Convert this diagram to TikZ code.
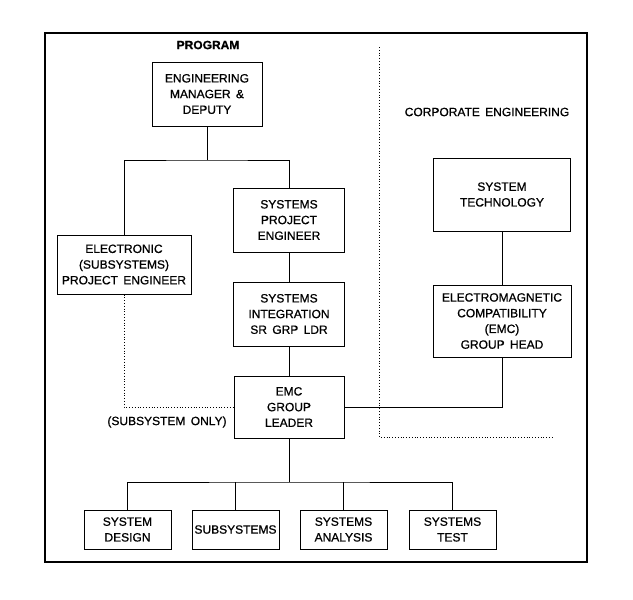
\documentclass[tikz,border=0pt]{standalone}
\usepackage{fontspec}
\setmainfont[WordSpace=1.6,FakeBold=0.8]{Liberation Sans}

\begin{document}
\begin{tikzpicture}[x=1pt,y=-1pt,
 box/.style={draw,line width=1pt,align=center,inner sep=0pt,
  font=\fontsize{12}{15.7}\selectfont},
 headtext/.style={font=\fontsize{12}{15.7}\selectfont},
 wire/.style={line width=1pt},
 dots/.style={dotted,line width=0.8pt}]
 \useasboundingbox (0,0) rectangle (633,600);
 \draw[line width=2pt] (45,33) rectangle (587,562);
 \node[headtext,font=\fontsize{12}{15.7}\selectfont\bfseries] (program) at (208,45) {PROGRAM};
 \node[headtext] (corp) at (487,112) {CORPORATE ENGINEERING};
 \node[headtext] (subonly) at (167,422) {(SUBSYSTEM ONLY)};
 % program side
 \node[box,minimum width=110,minimum height=64] (mgr) at (207,94) {ENGINEERING\\MANAGER \&\\DEPUTY};
 \node[box,minimum width=111,minimum height=64] (spe) at (289,220) {SYSTEMS\\PROJECT\\ENGINEER};
 \node[box,minimum width=134,minimum height=59] (elec) at (124,264.5) {ELECTRONIC\\(SUBSYSTEMS)\\PROJECT ENGINEER};
 \node[box,minimum width=111,minimum height=64] (sint) at (289,314) {SYSTEMS\\INTEGRATION\\SR GRP LDR};
 \node[box,minimum width=110,minimum height=62] (lead) at (289,407) {EMC\\GROUP\\LEADER};
 % corporate side
 \node[box,minimum width=137,minimum height=73] (tech) at (502,194.5) {SYSTEM\\TECHNOLOGY};
 \node[box,minimum width=138,minimum height=72] (head) at (502,321) {ELECTROMAGNETIC\\COMPATIBILITY\\(EMC)\\GROUP HEAD};
 % groups
 \node[box,minimum width=87,minimum height=39] (design) at (127.5,529.5) {SYSTEM\\DESIGN};
 \node[box,minimum width=87,minimum height=39] (subs) at (235.5,529.5) {SUBSYSTEMS};
 \node[box,minimum width=87,minimum height=39] (anal) at (343.5,529.5) {SYSTEMS\\ANALYSIS};
 \node[box,minimum width=87,minimum height=39] (test) at (452.5,529.5) {SYSTEMS\\TEST};
 % connectors
 \coordinate (split) at (207,160);
 \coordinate (fork) at (289,482);
 \draw[wire] (mgr) -- (split);
 \draw[wire] (elec.north) |- (split) -| (spe.north);
 \draw[wire] (spe) -- (sint);
 \draw[wire] (sint) -- (lead);
 \draw[wire] (tech) -- (head);
 \draw[wire] (lead.east) -| (head.south);
 \draw[dots] (elec.south) |- (lead.west);
 \draw[wire] (lead) -- (fork);
 \draw[wire] (design.north) |- (fork) -| (test.north);
 \draw[wire] (subs.north) -- (subs.north |- fork);
 \draw[wire] (anal.north) -- (anal.north |- fork);
 % corporate boundary
 \coordinate (corptop) at (379,47);
 \coordinate (corpcorner) at (379,437);
 \coordinate (corpend) at (553,437);
 \draw[dots] (corptop) -- (corpcorner) -- (corpend);
\end{tikzpicture}
\end{document}
